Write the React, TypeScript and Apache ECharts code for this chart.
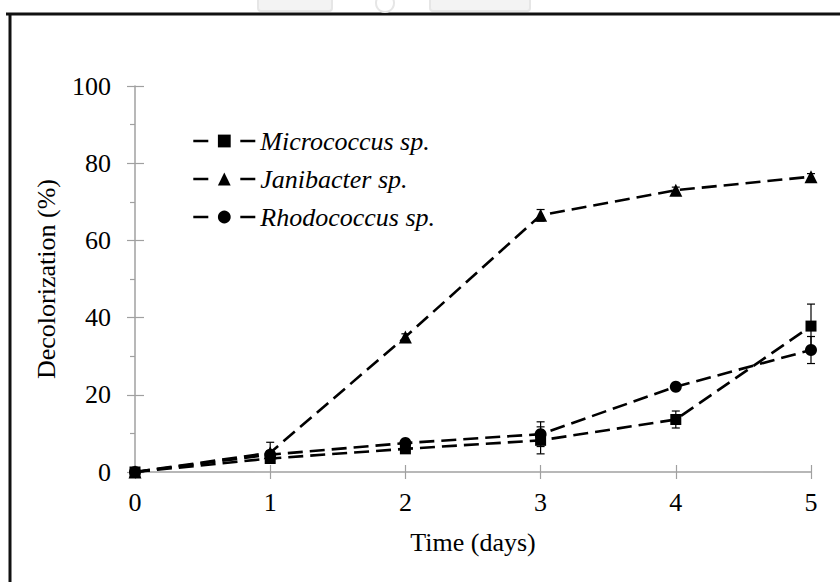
import React, { useEffect, useRef } from "react";
import * as echarts from "echarts";

const days = [0, 1, 2, 3, 4, 5];
const seriesNames = ["Micrococcus sp.", "Janibacter sp.", "Rhodococcus sp."];
const seriesSymbols = ["rect", "triangle", "circle"];
const seriesSymbolSizes = [11, 13, 12];

const micrococcus = [0, 3.5, 6, 8.2, 13.6, 37.8];
const micrococcusErr = [0.3, 1.0, 0.8, 3.5, 2.2, 5.7];
const janibacter = [0, 5, 35, 66.5, 73, 76.5];
const janibacterErr = [0.3, 2.7, 0.8, 1.5, 0.8, 0.8];
const rhodococcus = [0, 4.5, 7.5, 9.8, 22.1, 31.6];
const rhodococcusErr = [0.3, 1.0, 0.8, 3.2, 0.8, 3.5];

const FONT = "Liberation Serif";

export default function App() {
  const ref = useRef<HTMLDivElement>(null);
  useEffect(() => {
    document.body.style.margin = "0";
    const chart = echarts.init(ref.current!, null, { renderer: "svg" });
    const values = [micrococcus, janibacter, rhodococcus];
    const errs = [micrococcusErr, janibacterErr, rhodococcusErr];

    const lineSeries = seriesNames.map((name, i) => ({
      name,
      type: "line",
      data: days.map((d, j) => [d, values[i][j]]),
      symbol: seriesSymbols[i],
      symbolSize: seriesSymbolSizes[i],
      itemStyle: { color: "#000" },
      lineStyle: { color: "#000", width: 2.6, type: [15, 7] },
      z: 3,
    }));

    const errSeries = seriesNames.map((name, i) => ({
      name: name + " err",
      type: "custom",
      data: days.map((d, j) => [d, values[i][j] - errs[i][j], values[i][j] + errs[i][j]]),
      encode: { x: 0, y: [1, 2] },
      z: 4,
      silent: true,
      renderItem: (params: any, api: any) => {
        const x = api.value(0);
        const lo = api.coord([x, api.value(1)]);
        const hi = api.coord([x, api.value(2)]);
        const w = 4;
        const style = { stroke: "#000", lineWidth: 1.2 };
        return {
          type: "group",
          children: [
            { type: "line", shape: { x1: hi[0], y1: hi[1], x2: lo[0], y2: lo[1] }, style },
            { type: "line", shape: { x1: hi[0] - w, y1: hi[1], x2: hi[0] + w, y2: hi[1] }, style },
            { type: "line", shape: { x1: lo[0] - w, y1: lo[1], x2: lo[0] + w, y2: lo[1] }, style },
          ],
        };
      },
    }));

    const axisGray = "#a0a0a0";

    chart.setOption({
      animation: false,
      backgroundColor: "#fff",
      grid: { left: 135, right: 29, top: 86, bottom: 110 },
      legend: {
        orient: "vertical",
        left: 187,
        top: 123,
        itemWidth: 62,
        itemHeight: 16,
        itemGap: 12,
        data: seriesNames,
        textStyle: { fontFamily: FONT, fontStyle: "italic", fontSize: 26, color: "#000", lineHeight: 26 },
        lineStyle: { type: [15, 32], width: 2.6, color: "#000" },
      },
      xAxis: [
        {
          type: "value",
          position: "bottom",
          min: 0,
          max: 5,
          interval: 1,
          name: "Time (days)",
          nameLocation: "middle",
          nameGap: 57,
          nameTextStyle: { fontFamily: FONT, fontSize: 26, color: "#000" },
          axisLine: { show: true, lineStyle: { color: axisGray, width: 1.5 } },
          axisTick: { show: true, length: 7, lineStyle: { color: axisGray, width: 1.2 } },
          axisLabel: { fontFamily: FONT, fontSize: 26, color: "#000", margin: 17 },
          splitLine: { show: false },
        },
        {
          type: "value",
          position: "bottom",
          min: 0,
          max: 5,
          interval: 1,
          axisLine: { show: false },
          axisTick: { show: true, inside: true, length: 7, lineStyle: { color: axisGray, width: 1.2 } },
          axisLabel: { show: false },
          splitLine: { show: false },
        },
      ],
      yAxis: [
        {
          type: "value",
          position: "left",
          min: 0,
          max: 100,
          interval: 20,
          name: "Decolorization (%)",
          nameLocation: "middle",
          nameGap: 76,
          nameTextStyle: { fontFamily: FONT, fontSize: 26, color: "#000" },
          axisLine: { show: true, lineStyle: { color: axisGray, width: 1.5 } },
          axisTick: { show: true, length: 8, lineStyle: { color: axisGray, width: 1.2 } },
          minorTick: { show: true, splitNumber: 2, length: 5, lineStyle: { color: axisGray, width: 1.2 } },
          axisLabel: { fontFamily: FONT, fontSize: 26, color: "#000", margin: 24 },
          splitLine: { show: false },
        },
        {
          type: "value",
          position: "left",
          min: 0,
          max: 100,
          interval: 20,
          axisLine: { show: false },
          axisTick: { show: true, inside: true, length: 9, lineStyle: { color: axisGray, width: 1.2 } },
          axisLabel: { show: false },
          splitLine: { show: false },
        },
      ],
      graphic: [
        {
          type: "line",
          shape: { x1: 6, y1: 14, x2: 840, y2: 14 },
          style: { stroke: "#111", lineWidth: 3 },
          silent: true,
        },
        {
          type: "line",
          shape: { x1: 10, y1: 13, x2: 10, y2: 582 },
          style: { stroke: "#111", lineWidth: 3 },
          silent: true,
        },
        {
          type: "rect",
          shape: { x: 258, y: -6, width: 74, height: 17, r: 3 },
          style: { fill: "#f3f3f3", stroke: "#e6e6e6", lineWidth: 2 },
          silent: true,
        },
        {
          type: "circle",
          shape: { cx: 385, cy: 3, r: 9 },
          style: { fill: "none", stroke: "#e6e6e6", lineWidth: 2 },
          silent: true,
        },
        {
          type: "rect",
          shape: { x: 430, y: -6, width: 100, height: 17, r: 3 },
          style: { fill: "#f3f3f3", stroke: "#e6e6e6", lineWidth: 2 },
          silent: true,
        },
      ],
      series: [...lineSeries, ...errSeries],
    });
    return () => chart.dispose();
  }, []);
  return <div ref={ref} style={{ width: 840, height: 582 }} />;
}
